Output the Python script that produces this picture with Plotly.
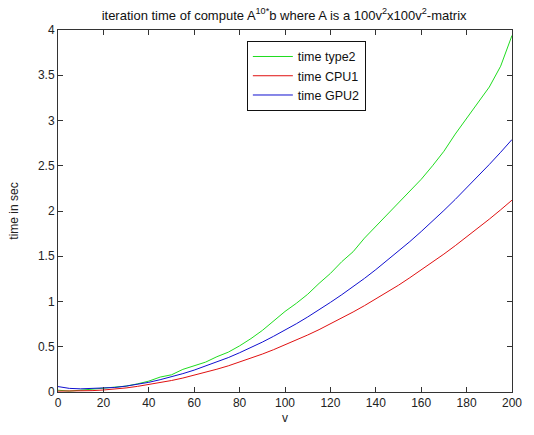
import plotly.graph_objects as go

v = list(range(0, 201, 5))

time_type2 = [0.02, 0.01, 0.02, 0.03, 0.045, 0.05, 0.065, 0.09, 0.12, 0.165,
              0.19, 0.25, 0.29, 0.33, 0.39, 0.44, 0.51, 0.59, 0.68, 0.79,
              0.89, 0.98, 1.08, 1.20, 1.31, 1.44, 1.55, 1.70, 1.83, 1.96,
              2.09, 2.23, 2.35, 2.50, 2.66, 2.85, 3.02, 3.19, 3.37, 3.60, 3.94]

time_cpu1 = [0.01, 0.01, 0.01, 0.015, 0.022, 0.031, 0.045, 0.062, 0.081, 0.103,
             0.127, 0.154, 0.184, 0.217, 0.252, 0.289, 0.330, 0.373, 0.419, 0.468,
             0.519, 0.573, 0.630, 0.689, 0.752, 0.817, 0.884, 0.954, 1.027, 1.103,
             1.180, 1.263, 1.347, 1.434, 1.524, 1.617, 1.712, 1.810, 1.910, 2.013, 2.12]

time_gpu2 = [0.06, 0.04, 0.035, 0.04, 0.045, 0.05, 0.065, 0.085, 0.107, 0.136,
             0.167, 0.203, 0.242, 0.286, 0.332, 0.380, 0.434, 0.491, 0.551, 0.616,
             0.683, 0.754, 0.829, 0.907, 0.990, 1.075, 1.163, 1.255, 1.352, 1.452,
             1.553, 1.662, 1.773, 1.887, 2.006, 2.128, 2.253, 2.382, 2.514, 2.649, 2.79]

x_ticks = list(range(0, 201, 20))
y_ticks = [0, 0.5, 1, 1.5, 2, 2.5, 3, 3.5, 4]

font = "Liberation Sans, Arial, sans-serif"

fig = go.Figure()
fig.add_trace(go.Scatter(x=v, y=time_type2, mode="lines", name="time type2",
                         line=dict(color="#1fdc1f", width=1)))
fig.add_trace(go.Scatter(x=v, y=time_cpu1, mode="lines", name="time CPU1",
                         line=dict(color="#e01010", width=1)))
fig.add_trace(go.Scatter(x=v, y=time_gpu2, mode="lines", name="time GPU2",
                         line=dict(color="#1010d0", width=1)))

axis_common = dict(showgrid=False, zeroline=False, showline=True, linecolor="#333333",
                   linewidth=1, mirror="ticks", ticks="inside", ticklen=5,
                   tickcolor="#333333", tickfont=dict(family=font, size=12, color="#222222"))

fig.update_layout(
    width=534, height=435,
    margin=dict(l=58, r=22, t=30, b=40),
    paper_bgcolor="white", plot_bgcolor="white",
    title=dict(text="iteration time of compute A<sup>10*</sup>b where A is a 100v<sup>2</sup>x100v<sup>2</sup>-matrix",
               x=0.532, xanchor="center", y=0.965, yanchor="middle",
               font=dict(family=font, size=13, color="#111111")),
    xaxis=dict(range=[0, 200], tickvals=x_ticks,
               title=dict(text="v", font=dict(family=font, size=12, color="#222222"), standoff=4),
               **axis_common),
    yaxis=dict(range=[0, 4], tickvals=y_ticks, ticktext=["0", "0.5", "1", "1.5", "2", "2.5", "3", "3.5", "4"],
               title=dict(text="time in sec", font=dict(family=font, size=12, color="#222222"), standoff=16),
               **axis_common),
    legend=dict(x=0.416, y=0.97, xanchor="left", yanchor="top",
                bgcolor="white", bordercolor="#111111", borderwidth=1,
                font=dict(family=font, size=12.5, color="#111111"),
                tracegroupgap=0, itemwidth=40),
    showlegend=True,
)

fig.write_html("out.html")
